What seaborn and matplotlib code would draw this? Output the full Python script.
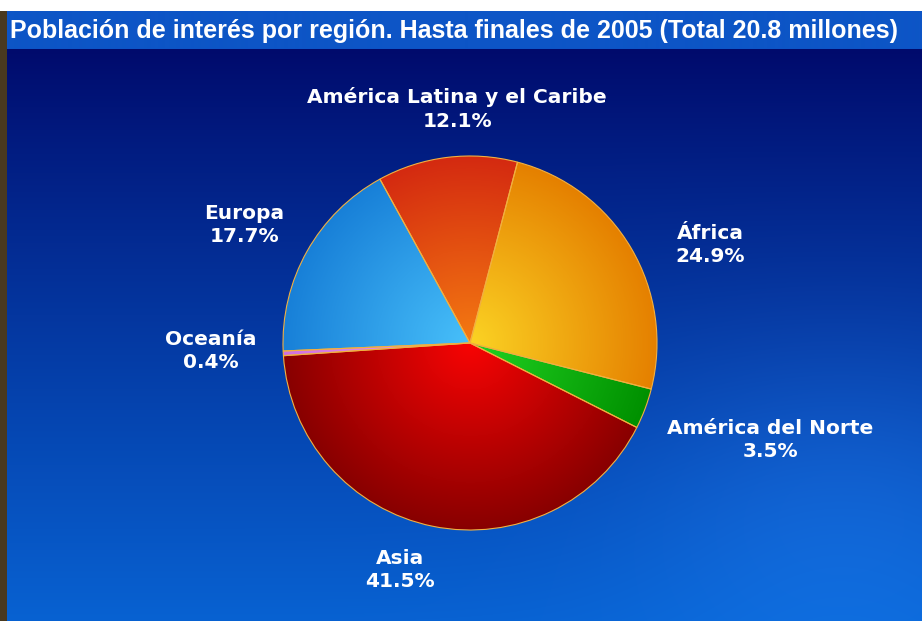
import numpy as np
import matplotlib
matplotlib.use('Agg')
import matplotlib.pyplot as plt
import seaborn as sns
from matplotlib import font_manager
from matplotlib.colors import LinearSegmentedColormap, to_rgb

sns.set_theme(style='white')

# ===== DATA =====
regions = ['América Latina y el Caribe', 'África', 'América del Norte',
           'Asia', 'Oceanía', 'Europa']
shares = [12.1, 24.9, 3.5, 41.5, 0.4, 17.7]
# inner (centre) / outer (rim) colour for each slice
inner_colors = ['#f47a12', '#fbd324', '#22d322', '#f80404', '#f0a0f0', '#48c0fa']
outer_colors = ['#d42a10', '#e58000', '#009000', '#880000', '#d070e0', '#1880d8']

# ===== FIGURE =====
W, H = 922, 621
fig = plt.figure(figsize=(W / 100, H / 100), dpi=100)
ax = fig.add_axes([0, 0, 1, 1])

# background: white strip, brown left border, dark navy -> blue gradient
yy, xx = np.mgrid[0:H, 0:W]
top = np.array(to_rgb('#000a6c'))
bot = np.array(to_rgb('#0862d2'))
t = np.clip((yy - 50) / (H - 50), 0, 1) ** 0.9
bg = top * (1 - t[..., None]) + bot * t[..., None]
# soft lighter haze in the lower right
haze = np.exp(-(((xx - 840) / 220.0) ** 2 + ((yy - 500) / 180.0) ** 2))
bg = bg + haze[..., None] * np.array([0.04, 0.07, 0.08])
bg[11:49, :] = to_rgb('#0d55c6')
bg[:11, :] = 1.0
bg[11:, :7] = to_rgb('#4a3a20')
ax.imshow(np.clip(bg, 0, 1), extent=(0, W, 0, H), origin='upper',
          zorder=0, aspect='auto')

# ===== PIE =====
cx, cy, r = 470, H - 343, 187
wedges, _ = ax.pie(shares, startangle=118.8, counterclock=False,
                   center=(cx, cy), radius=r, frame=True,
                   wedgeprops=dict(edgecolor='#f2b040', linewidth=0.8))

# radial gradient inside every slice
g = np.linspace(-1, 1, 300)
gx, gy = np.meshgrid(g, g)
rad = np.clip(np.sqrt(gx ** 2 + gy ** 2), 0, 1)
for w, c_in, c_out in zip(wedges, inner_colors, outer_colors):
    cmap = LinearSegmentedColormap.from_list('s', [c_in, c_out])
    w.set_facecolor('none')
    im = ax.imshow(rad, cmap=cmap, vmin=0, vmax=1,
                   extent=(cx - r, cx + r, cy - r, cy + r),
                   origin='lower', zorder=1, aspect='auto')
    im.set_clip_path(w)
    w.set_zorder(2)

ax.set_xlim(0, W)
ax.set_ylim(0, H)
ax.axis('off')

# ===== LABELS =====
label_pos = [(457, 109), (710, 245), (770, 440), (400, 570), (211, 351), (244, 225)]
for name, val, (lx, ly) in zip(regions, shares, label_pos):
    ax.text(lx, H - ly, f'{name}\n{val}%', color='white', fontsize=14.5,
            fontweight='bold', ha='center', va='center', linespacing=1.3,
            family=['DejaVu Sans'], zorder=5)

# ===== TITLE =====
names = {f.name for f in font_manager.fontManager.ttflist}
title_font = 'Liberation Sans Narrow' if 'Liberation Sans Narrow' in names else 'Liberation Sans'
ax.text(10, H - 31, 'Población de interés por región. Hasta finales de 2005 (Total 20.8 millones)',
        color='white', fontsize=21 if title_font.endswith('Narrow') else 18,
        fontweight='bold', ha='left', va='center', family=[title_font], zorder=5)

fig.savefig('out.png', dpi=100)
